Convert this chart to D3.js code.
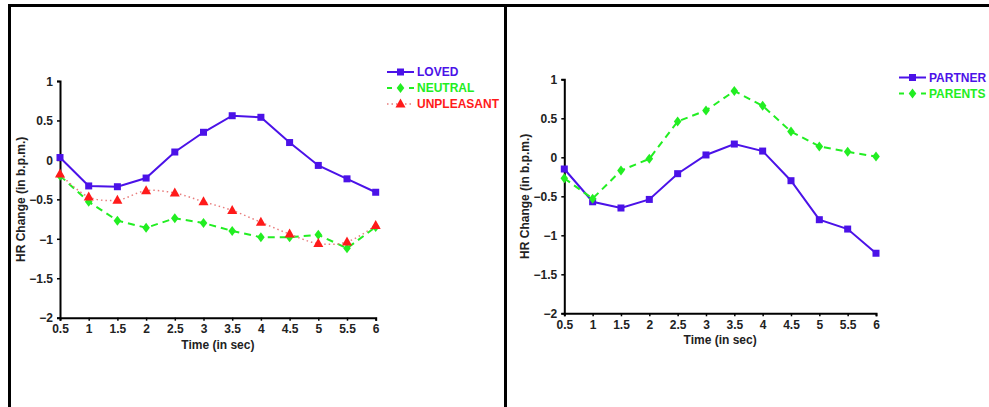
<!DOCTYPE html>
<html lang="en">
<head>
  <meta charset="UTF-8">
  <title>HR Change</title>
  <script src="https://d3js.org/d3.v7.min.js"></script>
  <style>
    body { margin: 0; background: #fff; font-family: "Liberation Sans", Arial, sans-serif; }
    svg { display: block; }
  </style>
</head>
<body>
<svg id="chart" width="989" height="407"></svg>
<script>
// data
const times = [0.5, 1, 1.5, 2, 2.5, 3, 3.5, 4, 4.5, 5, 5.5, 6];
const xTicks = [0.5, 1, 1.5, 2, 2.5, 3, 3.5, 4, 4.5, 5, 5.5, 6];
const yTicks = [1, 0.5, 0, -0.5, -1, -1.5, -2];

const loved      = [0.03, -0.33, -0.34, -0.23, 0.10, 0.35, 0.56, 0.54, 0.22, -0.07, -0.24, -0.41];
const neutral    = [-0.20, -0.53, -0.77, -0.86, -0.74, -0.80, -0.90, -0.98, -0.98, -0.95, -1.12, -0.85];
const unpleasant = [-0.18, -0.47, -0.51, -0.39, -0.42, -0.53, -0.64, -0.79, -0.94, -1.06, -1.04, -0.83];

const partner = [-0.15, -0.57, -0.65, -0.54, -0.21, 0.03, 0.17, 0.08, -0.30, -0.80, -0.92, -1.23];
const parents = [-0.27, -0.53, -0.17, -0.02, 0.46, 0.60, 0.85, 0.66, 0.33, 0.14, 0.07, 0.01];

const BLUE = "#4b12e8", GREEN = "#22ee22", RED = "#ff1a1a", PINK = "#e87c7c";

const styles = {
  LOVED:      { color: BLUE,  line: BLUE,  dash: null,  width: 2,   curve: d3.curveLinear, marker: "square" },
  NEUTRAL:    { color: GREEN, line: GREEN, dash: "7,5", width: 2,   curve: d3.curveLinear, marker: "diamond" },
  UNPLEASANT: { color: RED,   line: PINK,  dash: "1.5,3", width: 1.5, curve: d3.curveCatmullRom, marker: "triangle" },
  PARTNER:    { color: BLUE,  line: BLUE,  dash: null,  width: 2,   curve: d3.curveLinear, marker: "square" },
  PARENTS:    { color: GREEN, line: GREEN, dash: "7,5", width: 2,   curve: d3.curveLinear, marker: "diamond" }
};

const svg = d3.select("#chart");

// frame
svg.append("rect").attr("x", 0).attr("y", 0).attr("width", 989).attr("height", 407).attr("fill", "#fff");
svg.append("line").attr("x1", 8).attr("x2", 989).attr("y1", 5.5).attr("y2", 5.5).attr("stroke", "#000").attr("stroke-width", 3);
svg.append("line").attr("x1", 9.5).attr("x2", 9.5).attr("y1", 4).attr("y2", 407).attr("stroke", "#000").attr("stroke-width", 3);
svg.append("line").attr("x1", 505.5).attr("x2", 505.5).attr("y1", 4).attr("y2", 407).attr("stroke", "#000").attr("stroke-width", 3);

function marker(g, type, x, y, color) {
  if (type === "square") {
    g.append("rect").attr("x", x - 3.5).attr("y", y - 3.5).attr("width", 7).attr("height", 7).attr("fill", color);
  } else if (type === "diamond") {
    g.append("path").attr("d", `M${x},${y - 5}L${x + 3.8},${y}L${x},${y + 5}L${x - 3.8},${y}Z`).attr("fill", color);
  } else {
    g.append("path").attr("d", `M${x},${y - 5.5}L${x + 5},${y + 3.5}L${x - 5},${y + 3.5}Z`).attr("fill", color);
  }
}

function panel(cfg) {
  const g = svg.append("g");
  const x = d3.scaleLinear().domain([0.5, 6]).range([cfg.left, cfg.right]);
  const y = d3.scaleLinear().domain([-2, 1]).range([cfg.bottom, cfg.top]);

  const xAxis = g.append("g")
    .attr("transform", `translate(0,${cfg.bottom})`)
    .call(d3.axisBottom(x).tickValues(xTicks).tickSize(3).tickPadding(4).tickFormat(d => d3.format("")(d)));
  const yAxis = g.append("g")
    .attr("transform", `translate(${cfg.left},0)`)
    .call(d3.axisLeft(y).tickValues(yTicks).tickSize(3).tickPadding(4).tickFormat(d => String(d).replace("-", "\u2212")));

  [xAxis, yAxis].forEach(a => {
    a.select(".domain").attr("stroke", "#000").attr("stroke-width", 2);
    a.selectAll(".tick line").attr("stroke", "#000").attr("stroke-width", 1.5);
    a.selectAll(".tick text").attr("fill", "#222").style("font-size", "12px")
      .style("font-weight", "bold").style("font-family", "'Liberation Sans', Arial, sans-serif");
  });
  yAxis.selectAll(".tick text").attr("dy", "0.35em");

  g.append("text").attr("x", (cfg.left + cfg.right) / 2).attr("y", cfg.bottom + 31)
    .attr("text-anchor", "middle").attr("fill", "#222")
    .style("font-size", "12px").style("font-weight", "bold").text("Time (in sec)");
  g.append("text")
    .attr("transform", `translate(${cfg.left - 35.5},${(cfg.top + cfg.bottom) / 2}) rotate(-90)`)
    .attr("text-anchor", "middle").attr("fill", "#222")
    .style("font-size", "12px").style("font-weight", "bold").text("HR Change (in b.p.m.)");

  cfg.series.forEach(s => {
    const st = styles[s.name];
    const pts = times.map((t, i) => [x(t), y(s.values[i])]);
    g.append("path")
      .attr("d", d3.line().curve(st.curve)(pts))
      .attr("fill", "none").attr("stroke", st.line).attr("stroke-width", st.width)
      .attr("stroke-dasharray", st.dash);
    pts.forEach(p => marker(g, st.marker, p[0], p[1], st.color));
  });

  // legend
  cfg.series.forEach((s, i) => {
    const st = styles[s.name];
    const ly = cfg.legendY + i * 16;
    g.append("line").attr("x1", cfg.legendX).attr("x2", cfg.legendX + 27)
      .attr("y1", ly).attr("y2", ly).attr("stroke", st.line).attr("stroke-width", st.width)
      .attr("stroke-dasharray", st.dash ? (st.marker === "triangle" ? "1.5,3" : "5,6") : null);
    marker(g, st.marker, cfg.legendX + 13.5, ly, st.color);
    g.append("text").attr("x", cfg.legendX + 30).attr("y", ly).attr("dy", "0.36em")
      .attr("fill", st.color).style("font-size", "12px").style("font-weight", "bold").text(s.name);
  });
}

panel({
  left: 60, right: 375.7, top: 81, bottom: 317.7,
  legendX: 387, legendY: 72,
  series: [
    { name: "LOVED", values: loved },
    { name: "NEUTRAL", values: neutral },
    { name: "UNPLEASANT", values: unpleasant }
  ]
});

panel({
  left: 564.3, right: 876, top: 79.3, bottom: 313.3,
  legendX: 899, legendY: 77.5,
  series: [
    { name: "PARTNER", values: partner },
    { name: "PARENTS", values: parents }
  ]
});
</script>
</body>
</html>
